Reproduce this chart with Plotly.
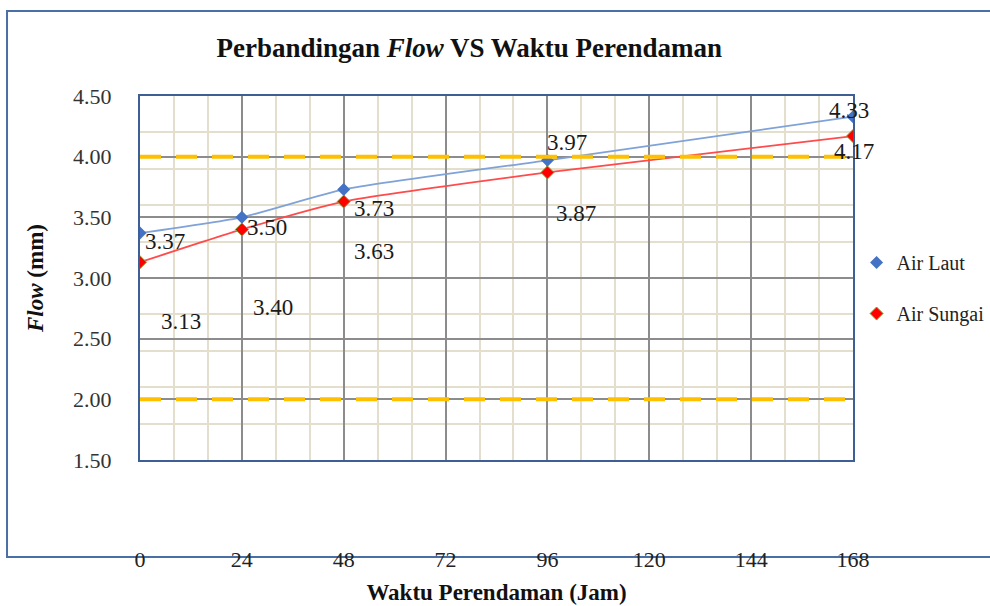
import plotly.graph_objects as go

# ---- data ----
hours = [0, 24, 48, 96, 168]
air_laut = [3.37, 3.50, 3.73, 3.97, 4.33]
air_sungai = [3.13, 3.40, 3.63, 3.87, 4.17]
x_ticks = [0, 24, 48, 72, 96, 120, 144, 168]
y_ticks = [1.5, 2.0, 2.5, 3.0, 3.5, 4.0, 4.5]
y_minor = [1.5, 1.8, 2.1, 2.4, 2.7, 3.0, 3.3, 3.6, 3.9, 4.2, 4.5]
limit_lines = [4.0, 2.0]

# label offsets in pixels (dx, dy down)
laut_off = [(25, 8), (25, 10), (30, 19), (20, -18), (-4, -6)]
sungai_off = [(41, 59), (31, 78), (30, 50), (29, 41), (1, 15)]

SERIF = "Liberation Serif, Times New Roman, serif"
BLUE_M = "#4472C4"
BLUE_L = "#7FA2D8"
RED = "#FF0000"
RED_L = "#FF4B4B"

fig = go.Figure()

fig.add_trace(go.Scatter(x=hours, y=air_laut, mode="lines",
                         line=dict(color=BLUE_L, width=1.8, shape="spline", smoothing=0.5),
                         showlegend=False, hoverinfo="skip"))
fig.add_trace(go.Scatter(x=hours, y=air_sungai, mode="lines",
                         line=dict(color=RED_L, width=1.8, shape="spline", smoothing=0.5),
                         showlegend=False, hoverinfo="skip"))
fig.add_trace(go.Scatter(x=hours, y=air_laut, mode="markers", name="Air Laut", legendgroup="a",
                         marker=dict(symbol="diamond", size=10, color=BLUE_M, line=dict(width=0))))
fig.add_trace(go.Scatter(x=hours, y=air_sungai, mode="markers", name="Air Sungai", legendgroup="b",
                         marker=dict(symbol="diamond", size=10, color=RED, line=dict(width=1, color="#8A9A3A"))))

for xs, ys, offs in ((hours, air_laut, laut_off), (hours, air_sungai, sungai_off)):
    for xv, yv, (dx, dy) in zip(xs, ys, offs):
        fig.add_annotation(x=xv, y=yv, text=f"{yv:.2f}", showarrow=False, xshift=dx, yshift=-dy,
                           font=dict(family=SERIF, size=23, color="#1a1a1a"))

for yv in limit_lines:
    fig.add_shape(type="line", xref="x domain", x0=0, x1=1, yref="y", y0=yv, y1=yv,
                  line=dict(color="#FFC000", width=4, dash="21px,15px"))

# outer chart frame
fig.add_shape(type="rect", xref="paper", yref="paper", x0=-0.1865, x1=1.25, y0=-0.2665, y1=1.2335,
              line=dict(color="#4A6FA5", width=2), layer="below")

fig.update_layout(
    width=990, height=606,
    margin=dict(l=140, r=137, t=96, b=146, autoexpand=False),
    paper_bgcolor="white", plot_bgcolor="white",
    title=dict(text="<b>Perbandingan <i>Flow</i> VS Waktu Perendaman</b>", x=0.474, y=1 - 48 / 606,
               xanchor="center", yanchor="middle", xref="container", yref="container",
               font=dict(family=SERIF, size=27, color="#111111")),
    legend=dict(x=1.005, y=(460 - 243) / 364, xanchor="left", yanchor="top", bgcolor="rgba(0,0,0,0)",
                font=dict(family=SERIF, size=20, color="#222222"), tracegroupgap=22),
    font=dict(family=SERIF, color="#222222"),
)

fig.update_xaxes(
    range=[0, 168], tickvals=x_ticks, ticktext=[str(v) for v in x_ticks],
    ticks="", ticklabelstandoff=79, automargin=True,
    tickfont=dict(family=SERIF, size=22, color="#222222"),
    showgrid=True, gridcolor="#8C8C8C", gridwidth=1.5,
    minor=dict(dtick=8, tick0=0, showgrid=True, gridcolor="#E3DFCC", gridwidth=2),
    showline=True, mirror=True, linecolor="#3E5F96", linewidth=2,
    zeroline=False,
    title=dict(text="<b>Waktu Perendaman (Jam)</b>", standoff=12,
               font=dict(family=SERIF, size=23, color="#111111")),
)
fig.update_yaxes(
    range=[1.5, 4.5], tickvals=y_ticks, ticktext=[f"{v:.2f}" for v in y_ticks],
    ticks="", ticklabelstandoff=22, automargin=True,
    tickfont=dict(family=SERIF, size=22, color="#333333"),
    showgrid=True, gridcolor="#8C8C8C", gridwidth=1.5,
    minor=dict(tickvals=y_minor, showgrid=True, gridcolor="#E3DFCC", gridwidth=2),
    showline=True, mirror=True, linecolor="#3E5F96", linewidth=2,
    zeroline=False,
    title=dict(text="<b><i>Flow</i> (mm)</b>", standoff=23,
               font=dict(family=SERIF, size=23, color="#111111")),
)

fig.write_html("out.html", config={"displayModeBar": False},
               post_script="document.body.style.margin='0';")
